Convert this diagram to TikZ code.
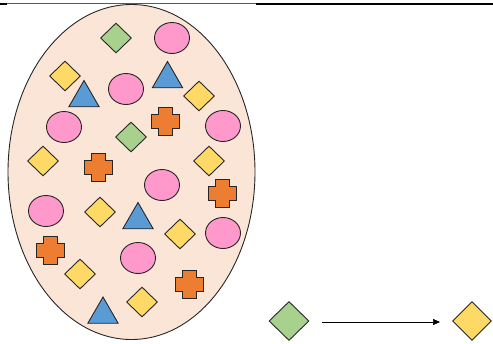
\documentclass[tikz,border=0pt]{standalone}
\usetikzlibrary{shapes.geometric,arrows.meta}
\definecolor{eggfill}{HTML}{FBE5D6}
\definecolor{pinkc}{HTML}{FF99CC}
\definecolor{greenc}{HTML}{A9D18E}
\definecolor{yellowc}{HTML}{FFD966}
\definecolor{bluec}{HTML}{5B9BD5}
\definecolor{orangec}{HTML}{ED7D31}
\definecolor{edgec}{HTML}{262626}
\tikzset{
  outl/.style={draw=edgec, line width=0.9pt},
  pinkell/.style={outl, ellipse, fill=pinkc, minimum width=35pt, minimum height=31pt, inner sep=0pt},
  ydia/.style={outl, diamond, fill=yellowc, minimum width=31pt, minimum height=30pt, inner sep=0pt},
  gdia/.style={outl, diamond, fill=greenc, minimum width=31pt, minimum height=30pt, inner sep=0pt},
  btri/.style={outl, regular polygon, regular polygon sides=3, fill=bluec, minimum size=35pt, inner sep=0pt},
  pics/plusc/.style={code={
    \draw[outl, fill=orangec] (-7,-14) -- (7,-14) -- (7,-7) -- (14,-7) -- (14,7) -- (7,7) -- (7,14) -- (-7,14) -- (-7,7) -- (-14,7) -- (-14,-7) -- (-7,-7) -- cycle;
  }},
}
\begin{document}
\begin{tikzpicture}[x=1pt, y=-1pt]
\useasboundingbox (0,0) rectangle (493,343);
% top rules
\draw[line width=2pt, black] (0,4) -- (7,4);
\draw[line width=1pt, black!65] (7,3.5) -- (256,3.5);
\draw[line width=2pt, black] (256,4) -- (493,4);
% egg
\node[outl, ellipse, fill=eggfill, minimum width=247pt, minimum height=335pt, inner sep=0pt] (egg) at (131.5,172) {};
% pink ellipses
\node[pinkell] (p1) at (172,38) {};
\node[pinkell] (p2) at (126,89) {};
\node[pinkell] (p3) at (64,127) {};
\node[pinkell] (p4) at (223,126) {};
\node[pinkell] (p5) at (162,185) {};
\node[pinkell] (p6) at (46,211) {};
\node[pinkell] (p7) at (223,233) {};
\node[pinkell] (p8) at (138,258) {};
% green diamonds
\node[gdia] (g1) at (116,38) {};
\node[gdia] (g2) at (131,137) {};
% yellow diamonds
\node[ydia] (y1) at (65,76) {};
\node[ydia] (y2) at (199,96) {};
\node[ydia] (y3) at (43,161) {};
\node[ydia] (y4) at (209,161) {};
\node[ydia] (y5) at (100,212) {};
\node[ydia] (y6) at (180,234) {};
\node[ydia] (y7) at (80,274) {};
\node[ydia] (y8) at (142,302) {};
% blue triangles
\node[btri] (t1) at (84,98) {};
\node[btri] (t2) at (167.5,79) {};
\node[btri] (t3) at (138,220) {};
\node[btri] (t4) at (103,314.5) {};
% orange crosses
\pic at (165,121.5) {plusc};
\pic at (98,167) {plusc};
\pic at (222,193) {plusc};
\pic at (50,250) {plusc};
\pic at (189,284) {plusc};
% transformation
\node[gdia, minimum width=40pt, minimum height=39pt] (ga) at (289,321) {};
\node[ydia, minimum width=39pt, minimum height=39pt] (yb) at (472,321) {};
\coordinate (as) at (322,322);
\coordinate (ae) at (440,322);
\draw[line width=0.7pt, -{Triangle[length=7pt, width=6pt]}] (as) -- (ae);
\end{tikzpicture}
\end{document}
